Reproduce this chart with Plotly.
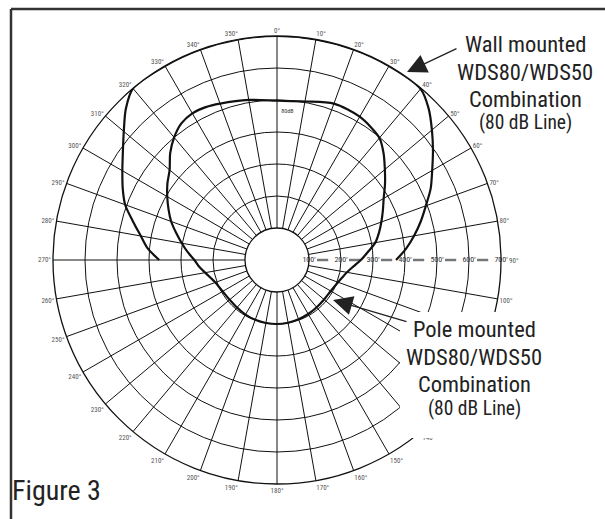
import plotly.graph_objects as go

W, H = 605, 519

# ---------------- data ----------------
ring_values = [100, 200, 300, 400, 500, 600, 700]
ring_labels = ["100'", "200'", "300'", "400'", "500'", "600'", "700'"]

angle_ticks = [a for a in range(0, 360, 10) if a != 90]
hidden_labels = [110, 120, 130]          # covered by the caption box in the original
angle_labels = ["" if a in hidden_labels else f"{a}°" for a in angle_ticks]

wall_theta = [270, 275, 280, 285, 290, 295, 300, 305, 310, 315, 320, 330, 340, 350,
              0, 10, 20, 30, 40, 45, 50, 55, 60, 65, 70, 75, 80, 85, 90]
wall_r = [368, 405, 432, 466, 505, 532, 558, 588, 625, 668, 700, 700, 700, 700,
          700, 700, 700, 700, 698, 670, 632, 595, 560, 530, 495, 465, 435, 405, 372]

pole_theta = [0, 10, 20, 30, 40, 45, 50, 55, 60, 65, 70, 75, 80, 85, 90, 95, 100, 105, 110,
              120, 130, 140, 150, 160, 170, 180, 190, 200, 210, 220, 230, 240, 250, 255, 260,
              265, 270, 275, 280, 285, 290, 295, 300, 305, 310, 315, 320, 325, 330, 335, 340,
              350, 360]
pole_r = [498, 503, 520, 517, 498, 471, 440, 412, 385, 365, 347, 330, 312, 285, 262, 239, 222,
          211, 203, 194, 192, 193, 195, 197, 199, 200, 200, 199, 197, 194, 193, 196, 205, 215,
          228, 244, 258, 280, 302, 326, 352, 374, 396, 418, 438, 472, 500, 521, 529, 527, 520,
          508, 498]

# ---------------- layout helpers ----------------
CX, CY, R = 277, 260, 224
FONT = "Roboto Condensed, Liberation Sans Narrow, Arial Narrow, sans-serif"


def px(x):
    return x / W


def py(y):
    return 1 - y / H


fig = go.Figure()

# dashes between the distance labels along the 90° line
dash_r, dash_t = [], []
for v in ring_values[:-1]:
    dash_r += [v + 25, v + 60, None]
    dash_t += [90, 90, None]
fig.add_trace(go.Scatterpolar(r=dash_r, theta=dash_t, mode="lines",
                              line=dict(color="#777777", width=2.5),
                              hoverinfo="skip", showlegend=False))

fig.add_trace(go.Scatterpolar(r=wall_r, theta=wall_theta, mode="lines",
                              line=dict(color="#111111", width=2.2, shape="spline", smoothing=0.8),
                              cliponaxis=False, showlegend=False, name="Wall mounted"))
fig.add_trace(go.Scatterpolar(r=pole_r, theta=pole_theta, mode="lines",
                              line=dict(color="#111111", width=2.2, shape="spline", smoothing=0.8),
                              cliponaxis=False, showlegend=False, name="Pole mounted"))

fig.add_trace(go.Scatterpolar(r=ring_values, theta=[90] * len(ring_values), mode="text",
                              text=ring_labels, textposition="middle center",
                              textfont=dict(family=FONT, size=8, color="#333333"),
                              cliponaxis=False, hoverinfo="skip", showlegend=False))
fig.add_trace(go.Scatterpolar(r=[465], theta=[4], mode="text", text=["80dB"],
                              textfont=dict(family=FONT, size=6, color="#333333"),
                              hoverinfo="skip", showlegend=False))

fig.update_layout(
    width=W, height=H,
    margin=dict(l=0, r=0, t=0, b=0),
    paper_bgcolor="white",
    showlegend=False,
    polar=dict(
        domain=dict(x=[px(CX - R), px(CX + R)], y=[py(CY + R), py(CY - R)]),
        bgcolor="white",
        hole=1 / 7,
        radialaxis=dict(range=[100, 700], tickvals=ring_values, showticklabels=False,
                        showline=False, ticks="", gridcolor="#111111", gridwidth=1.1,
                        angle=0),
        angularaxis=dict(rotation=90, direction="clockwise", tickmode="array",
                         tickvals=angle_ticks, ticktext=angle_labels, ticks="",
                         gridcolor="#111111", gridwidth=1.1, showline=True,
                         linecolor="#111111", linewidth=1.3,
                         tickfont=dict(family=FONT, size=7, color="#555555")),
    ),
)

# white box under the "Pole mounted" caption that masks the grid
fig.add_shape(type="rect", xref="paper", yref="paper",
              x0=px(400), x1=px(606), y0=py(438), y1=py(312),
              fillcolor="white", line=dict(width=0), layer="above")

# frame (top & left)
fig.add_shape(type="line", xref="paper", yref="paper", x0=px(11), x1=px(606),
              y0=py(9), y1=py(9), line=dict(color="#333333", width=2.5))
fig.add_shape(type="line", xref="paper", yref="paper", x0=px(11), x1=px(11),
              y0=py(9), y1=py(520), line=dict(color="#333333", width=2.5))


def caption(lines, cx, ys, sizes):
    for t, y, s in zip(lines, ys, sizes):
        fig.add_annotation(x=px(cx), y=py(y), xref="paper", yref="paper", text=t,
                           showarrow=False, xanchor="center", yanchor="middle",
                           font=dict(family=FONT, size=s, color="#222222"))


caption(["Wall mounted", "WDS80/WDS50", "Combination", "(80 dB Line)"],
        525, [44, 72, 99, 123], [22.5, 22.5, 22.5, 19.5])
caption(["Pole mounted", "WDS80/WDS50", "Combination", "(80 dB Line)"],
        474, [329, 357, 384, 408], [22.5, 22.5, 22.5, 19.5])

# arrows
for head, tail in [((407, 72), (458, 48)), ((333, 300), (408, 322))]:
    fig.add_annotation(x=px(head[0]), y=py(head[1]), xref="paper", yref="paper",
                       text="", showarrow=True, ax=tail[0] - head[0], ay=tail[1] - head[1],
                       arrowhead=2, arrowsize=3, arrowwidth=1.3, arrowcolor="#222222",
                       standoff=0, startstandoff=0)

fig.add_annotation(x=px(521), y=py(261), xref="paper", yref="paper", text="90°",
                   showarrow=False, font=dict(family=FONT, size=7, color="#555555"))

fig.add_annotation(x=px(10), y=py(490), xref="paper", yref="paper", text="Figure 3",
                   showarrow=False, xanchor="left", yanchor="middle",
                   font=dict(family=FONT, size=28, color="#222222"))

fig.write_html("out.html", config={"displayModeBar": False},
               post_script="document.body.style.margin='0px';")
